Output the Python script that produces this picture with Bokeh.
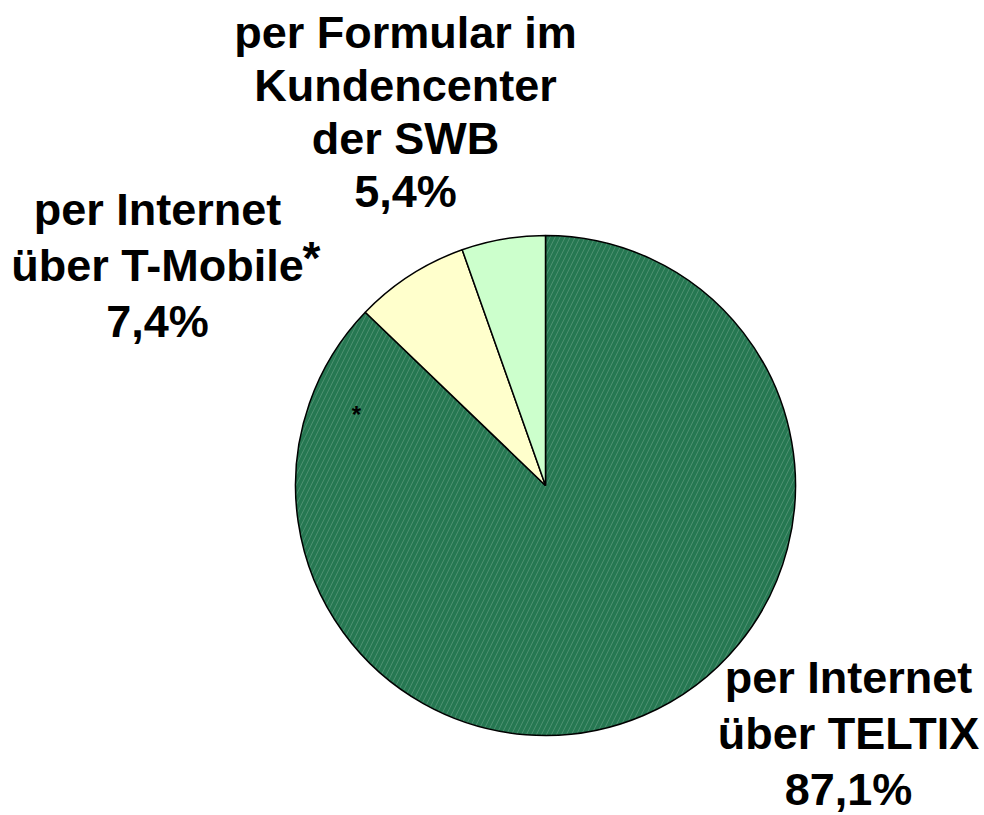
import numpy as np
from bokeh.plotting import figure
from bokeh.models import Range1d, ColumnDataSource
from bokeh.core.properties import value
from bokeh.embed import file_html
from bokeh.resources import INLINE

# ---- data ----
categories = ["per Internet über TELTIX", "per Internet über T-Mobile", "per Formular im Kundencenter der SWB"]
shares = [87.1, 7.4, 5.4]
colors = ["#267852", "#ffffcc", "#ccffcc"]
hatches = ["/", " ", " "]
label_lines = [
    ["per Internet", "über TELTIX", "87,1%"],
    ["per Internet", "über T-Mobile", "7,4%"],
    ["per Formular im", "Kundencenter", "der SWB", "5,4%"],
]

W, H = 984, 815
p = figure(width=W, height=H, output_backend="svg", toolbar_location=None,
           x_range=Range1d(0, W), y_range=Range1d(0, H),
           min_border=0, min_border_left=0, min_border_right=0,
           min_border_top=0, min_border_bottom=0)
p.axis.visible = False
p.grid.visible = False
p.outline_line_color = None
p.background_fill_color = "white"
p.border_fill_color = "white"

cx, cy, r = 545, H - 485, 250
total = sum(shares)
cum = np.concatenate([[0], np.cumsum(shares)]) / total
start = np.pi / 2 - 2 * np.pi * cum[:-1]
end = np.pi / 2 - 2 * np.pi * cum[1:]

src = ColumnDataSource(dict(start=start, end=end, color=colors, hatch=hatches,
                            cat=categories))
p.wedge(x=cx, y=cy, radius=r, start_angle="start", end_angle="end",
        direction="clock", fill_color="color", line_color="black", line_width=1.5,
        hatch_pattern="hatch", hatch_color="#ffffff", hatch_alpha=0.22,
        hatch_scale=10, hatch_weight=0.8, source=src)

# labels (page-pixel baselines converted to data space; glyph anchor sits ~18px above baseline)
off = 18
label_pos = [(848, 695, 56), (157, 227, 56), (405, 50, 53)]
xs, ys, ts = [], [], []
for lines, (lx, ly, sp) in zip(label_lines, label_pos):
    for i, t in enumerate(lines):
        xs.append(lx); ys.append(H - (ly + i * sp) + off); ts.append(t)
p.text(x=xs, y=ys, text=ts, text_align="center", text_baseline="alphabetic",
       text_font=value("Liberation Sans"), text_font_style="bold",
       text_font_size="45px", text_color="black")

# asterisks
p.text(x=[302], y=[H - 275 + off], text=["*"], text_align="left", text_baseline="alphabetic",
       text_font=value("Liberation Sans"), text_font_style="bold",
       text_font_size="46px", text_color="black")
p.text(x=[356], y=[H - 414], text=["*"], text_align="center", text_baseline="middle",
       text_font=value("Liberation Sans"), text_font_style="bold",
       text_font_size="24px", text_color="black")

open("out.html", "w").write(file_html(p, INLINE))
